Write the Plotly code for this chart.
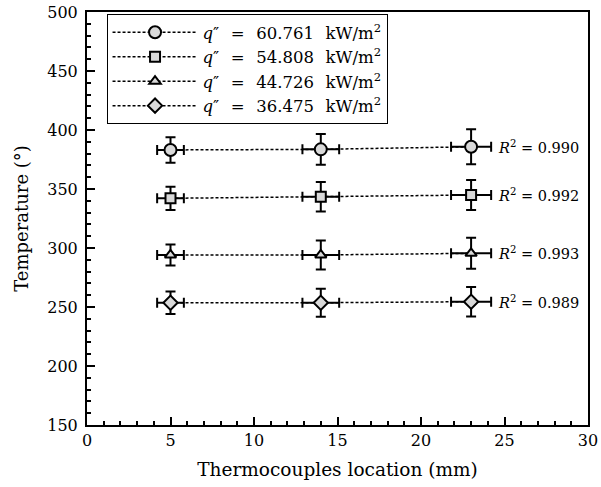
import plotly.graph_objects as go

x_loc = [5, 14, 23]
x_err = [0.8, 1.1, 1.2]

labels = ["60.761", "54.808", "44.726", "36.475"]
symbols = ["circle", "square", "triangle-up", "diamond"]
sizes = [12, 10, 10, 11]

t_q1 = [383.1, 383.6, 385.8]
t_q2 = [342.1, 343.5, 344.9]
t_q3 = [294.1, 294.1, 295.5]
t_q4 = [253.6, 253.6, 254.5]
e_q1 = [10.8, 13.1, 14.8]
e_q2 = [9.9, 12.5, 12.7]
e_q3 = [8.9, 12.3, 13.1]
e_q4 = [9.6, 11.9, 12.5]
r2 = ["0.990", "0.992", "0.993", "0.989"]

temps = [t_q1, t_q2, t_q3, t_q4]
errs = [e_q1, e_q2, e_q3, e_q4]

FONT = "DejaVu Serif"
SP = "\u2002\u2009"

fig = go.Figure()
for lab, sym, sz, t, e in zip(labels, symbols, sizes, temps, errs):
    fig.add_trace(go.Scatter(
        x=x_loc, y=t, mode="lines+markers",
        name=f"<i>q</i>″{SP}={SP}{lab}{SP}kW/m<sup>2</sup>",
        line=dict(color="black", width=1.5, dash="3px,2px"),
        marker=dict(symbol=sym, size=sz, color="#d9d9d9",
                    line=dict(color="black", width=2)),
        error_y=dict(type="data", array=e, color="black", thickness=2, width=5),
        error_x=dict(type="data", array=x_err, color="black", thickness=2, width=5),
    ))

for t, r in zip(temps, r2):
    fig.add_annotation(x=24.5, y=t[-1], xref="x", yref="y", xanchor="left",
                       yanchor="middle", showarrow=False,
                       text=f"<i>R</i><sup>2</sup> = {r}",
                       font=dict(family=FONT, size=14.5, color="black"))

axis_common = dict(
    showline=True, linecolor="black", linewidth=2, mirror=True,
    ticks="inside", tickcolor="black", tickwidth=2, ticklen=8,
    showgrid=False, zeroline=False, automargin=False,
    tickfont=dict(family=FONT, size=16, color="black"),
)

fig.update_xaxes(range=[0, 30], tick0=0, dtick=5,
                 minor=dict(ticks="inside", dtick=1, ticklen=4, tickwidth=1.5, tickcolor="black"),
                 title=dict(text="Thermocouples location (mm)", standoff=14,
                            font=dict(family=FONT, size=18.5, color="black")),
                 **axis_common)
fig.update_yaxes(range=[150, 500], tick0=150, dtick=50,
                 minor=dict(ticks="inside", dtick=10, ticklen=4, tickwidth=1.5, tickcolor="black"),
                 ticklabelstandoff=4,
                 title=dict(text="Temperature (°)", standoff=14,
                            font=dict(family=FONT, size=18, color="black")),
                 **axis_common)

fig.update_layout(
    width=601, height=487,
    margin=dict(l=87, r=13, t=12, b=62),
    paper_bgcolor="white", plot_bgcolor="white",
    showlegend=True,
    legend=dict(x=0.039, y=0.995, xanchor="left", yanchor="top",
                bgcolor="white", bordercolor="black", borderwidth=1,
                itemwidth=85, tracegroupgap=0,
                font=dict(family=FONT, size=16.5, color="black")),
)

fig.write_html("out.html")
